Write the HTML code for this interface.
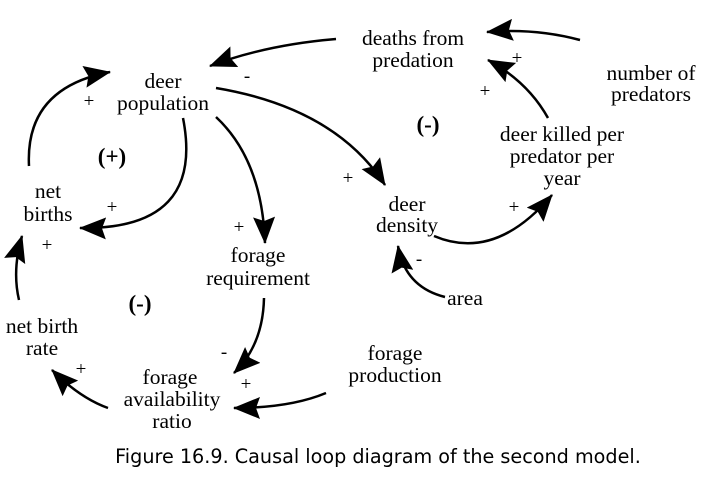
<!DOCTYPE html>
<html><head><meta charset="utf-8"><style>
html,body{margin:0;padding:0;background:#fff;}
svg{display:block;}
text{font-family:"Liberation Serif",serif;font-size:21.5px;fill:#000;text-anchor:middle;}
.s{font-size:19px;}
.b{font-weight:bold;font-size:23px;}
.cap{font-family:"DejaVu Sans","Liberation Sans",sans-serif;font-size:19.2px;}
path{fill:none;stroke:#000;stroke-width:2.5;}
</style></head><body>
<svg width="716" height="483" viewBox="0 0 716 483" xmlns="http://www.w3.org/2000/svg">
<defs>
<marker id="a" markerWidth="28" markerHeight="22" refX="26" refY="11" orient="auto" markerUnits="userSpaceOnUse">
<polygon points="0,0 27,11 0,22 4,11" fill="#000"/>
</marker>
</defs>
<text x="163" y="88">deer</text><text x="163" y="110">population</text>
<text x="413" y="45">deaths from</text><text x="413" y="67">predation</text>
<text x="651" y="80">number of</text><text x="651" y="101">predators</text>
<text x="562" y="141">deer killed per</text><text x="562" y="163">predator per</text><text x="562" y="185">year</text>
<text x="407" y="211">deer</text><text x="407" y="232">density</text>
<text x="48" y="198">net</text><text x="48" y="221">births</text>
<text x="258" y="262">forage</text><text x="258" y="285">requirement</text>
<text x="465" y="305">area</text>
<text x="42" y="333">net birth</text><text x="42" y="355">rate</text>
<text x="395" y="360">forage</text><text x="395" y="382">production</text>
<text x="170" y="384">forage</text><text x="172" y="406">availability</text><text x="172" y="428">ratio</text>
<text class="b" x="112" y="164">(+)</text>
<text class="b" x="428" y="132">(-)</text>
<text class="b" x="140" y="311">(-)</text>
<text class="s" x="247" y="82">-</text>
<text class="s" x="89" y="107">+</text>
<text class="s" x="112" y="213">+</text>
<text class="s" x="47" y="251">+</text>
<text class="s" x="81" y="375">+</text>
<text class="s" x="239" y="233">+</text>
<text class="s" x="224" y="358">-</text>
<text class="s" x="246" y="390">+</text>
<text class="s" x="348" y="184">+</text>
<text class="s" x="419" y="265">-</text>
<text class="s" x="514" y="213">+</text>
<text class="s" x="485" y="97">+</text>
<text class="s" x="517" y="64">+</text>
<path d="M336,39 Q265,45 210,66" marker-end="url(#a)"/>
<path d="M580,40 Q535,28 487,32" marker-end="url(#a)"/>
<path d="M548,118 Q528,82 488,60" marker-end="url(#a)"/>
<path d="M216,88 Q335,108 385,185" marker-end="url(#a)"/>
<path d="M216,117 Q262,160 265,243" marker-end="url(#a)"/>
<path d="M183,118 Q205,230 80,228" marker-end="url(#a)"/>
<path d="M29,166 Q25,88 110,72" marker-end="url(#a)"/>
<path d="M19,300 Q12,270 22,236" marker-end="url(#a)"/>
<path d="M108,408 Q80,398 52,370" marker-end="url(#a)"/>
<path d="M264,298 Q263,345 234,373" marker-end="url(#a)"/>
<path d="M326,393 Q290,408 234,408" marker-end="url(#a)"/>
<path d="M445,297 Q405,287 398,246" marker-end="url(#a)"/>
<path d="M434,236 Q495,262 552,195" marker-end="url(#a)"/>
<text class="cap" x="378" y="463">Figure 16.9. Causal loop diagram of the second model.</text>
</svg>
</body></html>
